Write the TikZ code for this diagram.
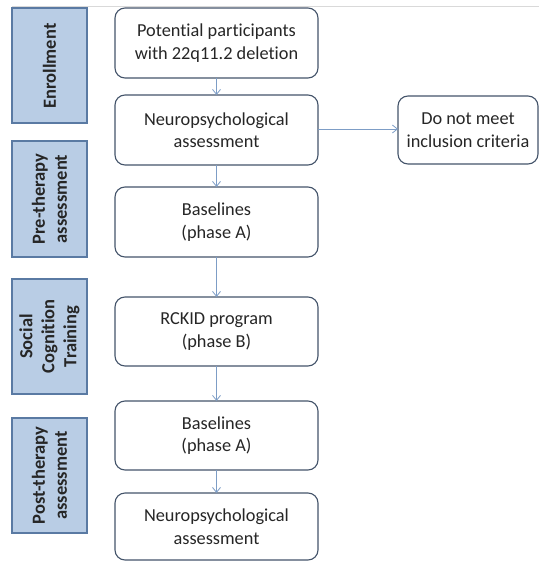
\documentclass[tikz,border=0pt]{standalone}
\usepackage{fontspec}
\setmainfont{Carlito}[Ligatures=NoCommon]
\usetikzlibrary{arrows.meta}
\definecolor{panelfill}{HTML}{B9CDE5}
\definecolor{panelline}{HTML}{5A7AA3}
\definecolor{boxline}{HTML}{44546A}
\definecolor{arrowcol}{HTML}{7D9DC6}
\begin{document}
\begin{tikzpicture}[x=1pt,y=-1pt,
  panel/.style={draw=panelline, fill=panelfill, line width=1.2pt, inner sep=0pt},
  panellabel/.style={rotate=90, font=\fontsize{18.5}{22}\selectfont\bfseries, align=center, text=black!85},
  flowbox/.style={draw=boxline, rounded corners=10pt, line width=1.1pt, fill=white},
  flowtext/.style={font=\fontsize{18.3}{22.5}\selectfont, align=center, text=black!85},
  flowarrow/.style={draw=arrowcol, line width=0.8pt, -{Straight Barb[length=5pt,width=8pt]}}
]
\useasboundingbox (0,0) rectangle (539,561);
\draw[black!15, line width=0.6pt] (12,6) -- (539,6);
% left panels
\draw[panel] (12,8) rectangle (87,123);
\node[panellabel] (pEnr) at (49.5,66) {Enrollment};
\draw[panel] (12,141) rectangle (87,257);
\node[panellabel] (pPre) at (49.5,199) {Pre-therapy\\assessment};
\draw[panel] (12,279) rectangle (87,394);
\node[panellabel] (pSoc) at (49.5,336.5) {Social\\Cognition\\Training};
\draw[panel] (12,418) rectangle (87,533);
\node[panellabel] (pPost) at (49.5,475.5) {Post-therapy\\assessment};
% flow boxes
\draw[flowbox] (115,8) rectangle (318,78);
\node[flowtext] (b1) at (216.5,43) {Potential participants\\with 22q11.2 deletion};
\draw[flowbox] (115,95) rectangle (318,165);
\node[flowtext] (b2) at (216.5,130) {Neuropsychological\\assessment};
\draw[flowbox] (115,187) rectangle (318,257);
\node[flowtext] (b3) at (216.5,222) {Baselines\\(phase A)};
\draw[flowbox] (115,297) rectangle (318,366);
\node[flowtext] (b4) at (216.5,331.5) {RCKID program\\(phase B)};
\draw[flowbox] (115,401) rectangle (318,470);
\node[flowtext] (b5) at (216.5,435.5) {Baselines\\(phase A)};
\draw[flowbox] (115,493) rectangle (318,560);
\node[flowtext] (b6) at (216.5,526.5) {Neuropsychological\\assessment};
\draw[flowbox] (398,96) rectangle (538,164);
\node[flowtext] (r1) at (468,130) {Do not meet\\inclusion criteria};
% coordinates of box edges
\coordinate (b1s) at (216.5,78);
\coordinate (b2n) at (216.5,95);
\coordinate (b2s) at (216.5,165);
\coordinate (b2e) at (318,129);
\coordinate (r1w) at (398,129);
\coordinate (b3n) at (216.5,187);
\coordinate (b3s) at (216.5,257);
\coordinate (b4n) at (216.5,297);
\coordinate (b4s) at (216.5,366);
\coordinate (b5n) at (216.5,401);
\coordinate (b5s) at (216.5,470);
\coordinate (b6n) at (216.5,493);
\draw[flowarrow] (b1s) -- (b2n);
\draw[flowarrow] (b2s) -- (b3n);
\draw[flowarrow] (b2e) -- (r1w);
\draw[flowarrow] (b3s) -- (b4n);
\draw[flowarrow] (b4s) -- (b5n);
\draw[flowarrow] (b5s) -- (b6n);
\end{tikzpicture}
\end{document}
